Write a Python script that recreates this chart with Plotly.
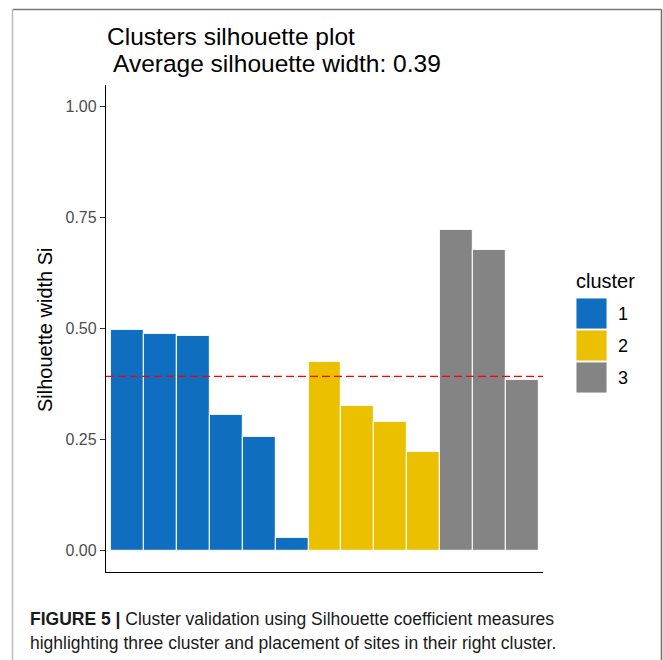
import plotly.graph_objects as go

# Silhouette widths of each site, grouped by cluster (sorted within cluster)
cluster_labels = ["1", "2", "3"]
cluster_colors = ["#0F6EC0", "#EBC000", "#848484"]
sil_cluster1 = [0.497, 0.488, 0.484, 0.306, 0.255, 0.028]
sil_cluster2 = [0.425, 0.327, 0.289, 0.223]
sil_cluster3 = [0.722, 0.677, 0.384]
y_ticks = [0.0, 0.25, 0.5, 0.75, 1.0]
y_tick_text = ["0.00", "0.25", "0.50", "0.75", "1.00"]

W, H = 663, 660
FONT = "Liberation Sans, Arial, sans-serif"


def px_x(x):
    return x / W


def px_y(y):
    return 1 - y / H


groups = [sil_cluster1, sil_cluster2, sil_cluster3]
all_values = [v for g in groups for v in g]
avg_width = sum(all_values) / len(all_values)

fig = go.Figure()
pos = 0
for label, color, vals in zip(cluster_labels, cluster_colors, groups):
    xs = list(range(pos, pos + len(vals)))
    pos += len(vals)
    fig.add_trace(go.Bar(
        x=xs, y=vals, width=1.0, name=label,
        marker=dict(color=color, line=dict(color="rgba(255,255,255,0.85)", width=1.2)),
        showlegend=False,
    ))

n = len(all_values)
panel_l, panel_r, panel_t, panel_b = 106, 543, 85, 572

fig.update_layout(
    width=W, height=H,
    margin=dict(l=0, r=0, t=0, b=0),
    paper_bgcolor="white", plot_bgcolor="white",
    bargap=0, barmode="overlay",
    font=dict(family=FONT),
    xaxis=dict(
        domain=[px_x(panel_l), px_x(panel_r)],
        range=[-0.65, n - 1 + 0.62],
        showline=True, linecolor="black", linewidth=1.3,
        showticklabels=False, ticks="", showgrid=False, zeroline=False,
    ),
    yaxis=dict(
        domain=[px_y(panel_b), px_y(panel_t)],
        range=[-0.048, 1.049],
        showline=True, linecolor="black", linewidth=1.3,
        tickvals=y_ticks, ticktext=y_tick_text,
        ticks="outside", ticklen=5, tickwidth=1.2, tickcolor="#333333",
        tickfont=dict(size=16, color="#4D4D4D", family=FONT),
        showgrid=False, zeroline=False,
    ),
)

# Average silhouette width reference line
fig.add_shape(type="line", xref="x domain", yref="y", x0=0, x1=1,
              y0=avg_width, y1=avg_width,
              line=dict(color="#FF0000", width=1.4, dash="8px,4px"))

annotations = [
    dict(text="Clusters silhouette plot", x=px_x(105), y=px_y(36),
         font=dict(size=24.5, color="black")),
    dict(text="Average silhouette width: %.2f" % avg_width, x=px_x(111), y=px_y(63),
         font=dict(size=24.5, color="black")),
    dict(text="Silhouette width Si", x=px_x(45), y=px_y(330), textangle=-90,
         xanchor="center", font=dict(size=20, color="black")),
    dict(text="cluster", x=px_x(574), y=px_y(281),
         font=dict(size=20, color="black")),
    dict(text="<b>FIGURE 5 |</b> Cluster validation using Silhouette coefficient measures",
         x=px_x(28), y=px_y(619), font=dict(size=17.5, color="#1a1a1a")),
    dict(text="highlighting three cluster and placement of sites in their right cluster.",
         x=px_x(28), y=px_y(643), font=dict(size=17.5, color="#1a1a1a")),
]

# Legend keys for the clusters
key_top = 298
for i, (label, color) in enumerate(zip(cluster_labels, cluster_colors)):
    y0 = key_top + i * 32
    fig.add_shape(type="rect", xref="paper", yref="paper",
                  x0=px_x(576), x1=px_x(607), y0=px_y(y0), y1=px_y(y0 + 31),
                  fillcolor=color, line=dict(color="rgba(255,255,255,0.9)", width=1))
    annotations.append(dict(text=label, x=px_x(616), y=px_y(y0 + 16),
                            font=dict(size=18, color="black")))

for a in annotations:
    a.setdefault("xanchor", "left")
    a.update(xref="paper", yref="paper", yanchor="middle", showarrow=False)
    a["font"]["family"] = FONT
fig.update_layout(annotations=annotations)

# Figure frame
frame = [
    (12.5, 9.5, 661.5, 9.5, "#7a7a7a"),
    (661.5, 9.5, 661.5, 660, "#6e6e6e"),
    (12.5, 9.5, 12.5, 660, "#bdbdbd"),
]
for x0, y0, x1, y1, c in frame:
    fig.add_shape(type="line", xref="paper", yref="paper",
                  x0=px_x(x0), y0=px_y(y0), x1=px_x(x1), y1=px_y(y1),
                  line=dict(color=c, width=1.5))

fig.write_html("out.html")
